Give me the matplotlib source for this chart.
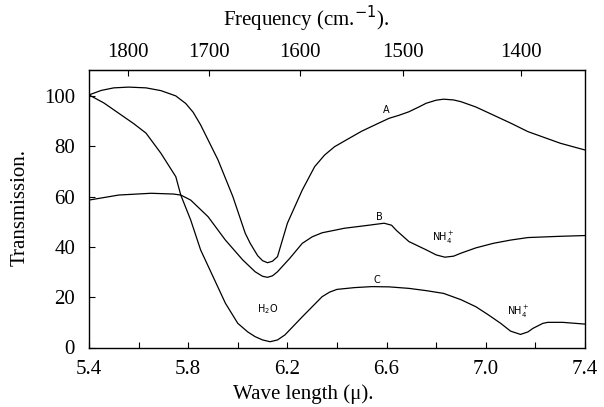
import numpy as np
import matplotlib
matplotlib.use("Agg")
import matplotlib.pyplot as plt

# ---- data ----
A_x = [5.40, 5.45, 5.50, 5.56, 5.63, 5.69, 5.75, 5.79, 5.82, 5.85, 5.92, 5.98, 6.03, 6.05, 6.08,
       6.10, 6.12, 6.14, 6.16, 6.20, 6.26, 6.31, 6.35, 6.39, 6.45, 6.50, 6.56, 6.61, 6.65, 6.69,
       6.73, 6.76, 6.80, 6.83, 6.87, 6.90, 6.96, 7.03, 7.10, 7.17, 7.30, 7.40]
A_y = [100.4, 102.2, 103.2, 103.5, 103.2, 102.1, 100.0, 97.0, 93.5, 88.5, 74.6, 60.0, 45.4, 41.4, 36.5,
       34.5, 33.7, 34.3, 36.1, 49.4, 62.6, 71.9, 76.5, 79.8, 83.2, 86.0, 88.8, 91.1, 92.3, 93.7,
       95.6, 97.1, 98.3, 98.7, 98.4, 97.7, 95.6, 92.4, 89.2, 85.8, 81.2, 78.5]

B_x = [5.40, 5.52, 5.65, 5.74, 5.77, 5.81, 5.88, 5.95, 6.02, 6.07, 6.10, 6.12, 6.14, 6.16, 6.21,
       6.26, 6.30, 6.34, 6.43, 6.52, 6.59, 6.62, 6.64, 6.69, 6.76, 6.80, 6.835, 6.87, 6.90, 6.96, 7.03,
       7.10, 7.17, 7.30, 7.40]
B_y = [58.6, 60.6, 61.3, 61.0, 60.6, 58.6, 52.0, 42.7, 34.8, 30.1, 28.3, 27.9, 28.5, 30.1, 35.5,
       41.4, 44.0, 45.6, 47.4, 48.5, 49.4, 48.6, 46.5, 42.1, 38.8, 36.8, 35.9, 36.3, 37.5, 39.6, 41.4,
       42.7, 43.7, 44.2, 44.5]

C_x = [5.40, 5.46, 5.52, 5.58, 5.63, 5.69, 5.75, 5.77, 5.81, 5.85, 5.90, 5.95, 6.00, 6.04, 6.07, 6.10, 6.13,
       6.16, 6.19, 6.26, 6.34, 6.37, 6.40, 6.47, 6.54, 6.61, 6.69, 6.76, 6.83, 6.90, 6.96, 7.01,
       7.06, 7.10, 7.14, 7.17, 7.19, 7.23, 7.25, 7.31, 7.40]
C_y = [100.4, 97.2, 93.1, 89.0, 85.2, 77.2, 67.9, 60.6, 50.7, 38.8, 28.2, 17.6, 9.6, 6.2, 4.3, 3.0, 2.3,
       3.0, 5.0, 12.2, 20.2, 22.0, 23.1, 23.8, 24.2, 24.1, 23.5, 22.6, 21.5, 19.0, 16.2, 13.0,
       9.6, 6.5, 5.2, 6.2, 7.6, 9.6, 10.0, 10.0, 9.3]

wave_ticks = [5.4, 5.6, 5.8, 6.0, 6.2, 6.4, 6.6, 6.8, 7.0, 7.2, 7.4]
wave_labels = ["5.4", "", "5.8", "", "6.2", "", "6.6", "", "7.0", "", "7.4"]
freq_ticks = [1800, 1700, 1600, 1500, 1400]
freq_labels = ["1800", "1700", "1600", "1500", "1400"]
trans_ticks = [0, 20, 40, 60, 80, 100]

annotations = [
    ("A", 6.60, 94.5),
    ("B", 6.57, 52.0),
    ("C", 6.56, 26.8),
    ("H$_2$O", 6.12, 15.2),
    ("NH$_4^+$", 6.83, 43.4),
    ("NH$_4^+$", 7.13, 14.0),
]

# ---- figure ----
serif = ["Liberation Serif", "DejaVu Serif"]
fig = plt.figure(figsize=(6.04, 4.07), dpi=100)
ax = fig.add_axes([89 / 604, 1 - 347.5 / 407, (585 - 89) / 604, (347.5 - 70) / 407])

for xs, ys in [(A_x, A_y), (B_x, B_y), (C_x, C_y)]:
    ax.plot(xs, ys, color="black", lw=0.9, solid_joinstyle="round")

ax.set_xlim(5.4, 7.4)
ax.set_ylim(0, 110.3)

ax.set_xticks(wave_ticks)
ax.set_xticklabels(wave_labels, fontfamily=serif, fontsize=15)
ax.set_yticks(trans_ticks)
ax.set_yticklabels([str(t) for t in trans_ticks], fontfamily=serif, fontsize=15)
ax.tick_params(axis="x", direction="in", length=4, width=0.8, pad=9)
ax.tick_params(axis="y", direction="in", length=4, width=0.8, pad=10)

for s in ax.spines.values():
    s.set_linewidth(1.0)

top = ax.secondary_xaxis("top", functions=(lambda x: 1e4 / x, lambda f: 1e4 / f))
top.set_xticks(freq_ticks)
top.set_xticklabels(freq_labels, fontfamily=serif, fontsize=15)
top.tick_params(axis="x", direction="in", length=4, width=0.8, pad=6)

for txt, x, y in annotations:
    ax.text(x, y, txt, fontsize=7, ha="center", va="center", family="DejaVu Sans")

fig.text(306 / 604, 1 - 19 / 407, "Frequency (cm.$^{-1}$).", fontfamily=serif, fontsize=15,
         ha="center", va="center")
fig.text(303 / 604, 1 - 394 / 407, "Wave length (\u03bc).", fontfamily=serif, fontsize=15,
         ha="center", va="center")
fig.text(20 / 604, 1 - 208 / 407, "Transmission.", fontfamily=serif, fontsize=15,
         ha="center", va="center", rotation=90)

fig.savefig("out.png", dpi=100)
